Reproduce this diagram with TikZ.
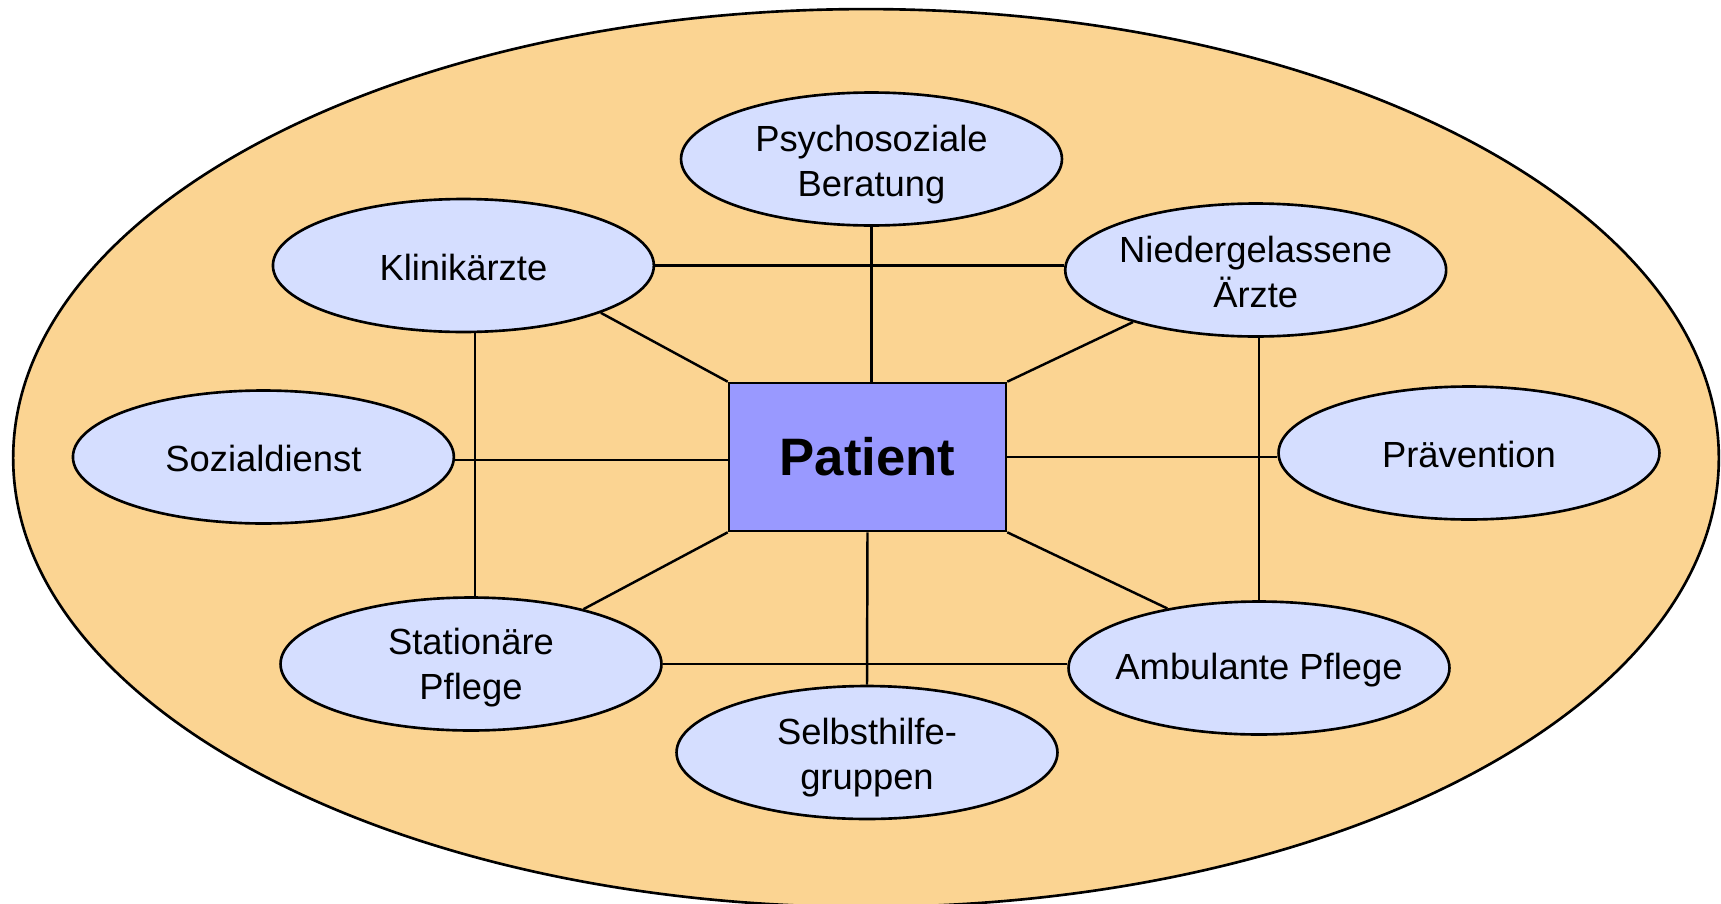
\documentclass[tikz,border=0pt]{standalone}
\usepackage{fontspec}
\setmainfont{Liberation Sans}
\usetikzlibrary{shapes.geometric}
\definecolor{aussen}{HTML}{FBD492}
\definecolor{stelle}{HTML}{D5DEFF}
\definecolor{mitte}{HTML}{9999FF}
% Stuetze fuer die erste Zeile
\newcommand{\zeilenstuetze}[1]{\rule{0pt}{#1}}

\begin{document}
\begin{tikzpicture}[x=0.02cm,y=-0.02cm,
    partner/.style={draw,fill=stelle,line width=1.5pt,shape=ellipse,
      minimum width=7.62cm,minimum height=2.66cm,inner xsep=-2cm,inner ysep=0pt,
      align=center,font=\fontsize{20.7}{25.6}\selectfont},
    verb/.style={line width=1.4pt}]
      \useasboundingbox (0,0) rectangle (1721,903) ;
      \clip (0,0) rectangle (1721,903) ;
      % das grosse Feld
      \draw[line width=1.5pt,fill=aussen] (866,458) ellipse [x radius=17.06cm,y radius=8.98cm] ;
      \node[draw,fill=mitte,line width=1.5pt,minimum width=5.54cm,minimum height=2.96cm,%
        font=\fontsize{30}{36}\selectfont\bfseries] (patient) at (867.5,457) {Patient} ;
      \node[partner] (psycho) at (871.5,159) {\zeilenstuetze{21pt}Psychosoziale\\Beratung} ;
      \node[partner] (klinik) at (463.4,265.5) {\zeilenstuetze{17pt}Klinikärzte} ;
      \node[partner] (nieder) at (1255.7,270) {\zeilenstuetze{17pt}Niedergelassene\\Ärzte} ;
      \node[partner] (sozial) at (263.4,457) {\zeilenstuetze{17pt}Sozialdienst} ;
      \node[partner] (praev) at (1469,453) {\zeilenstuetze{17pt}Prävention} ;
      \node[partner] (station) at (471,664) {\zeilenstuetze{19pt}Stationäre\\Pflege} ;
      \node[partner] (ambul) at (1259,668) {\zeilenstuetze{17pt}Ambulante Pflege} ;
      \node[partner] (selbst) at (867,752.5) {\zeilenstuetze{21pt}Selbsthilfe-\\gruppen} ;
      % Verbindungen
      \draw[verb] (klinik.east) -- (klinik.east -| nieder.west) ;
      \draw[verb] (psycho.south) -- (psycho.south |- patient.north) ;
      \draw[verb] (klinik.-19) -- (patient.north west) ;
      \draw[verb] (nieder.203) -- (patient.north east) ;
      \draw[verb] ([yshift=-0.06cm]sozial.east) -- ([yshift=-0.06cm]sozial.east -| patient.west) ;
      \draw[verb] (patient.east) -- (patient.east -| praev.west) ;
      \draw[verb] ([xshift=0.08cm]station.north) -- ([xshift=0.08cm]station.north |- klinik.south) ;
      \draw[verb] (ambul.north) -- (ambul.north |- nieder.south) ;
      \draw[verb] (station.26) -- (patient.south west) ;
      \draw[verb] (ambul.147) -- (patient.south east) ;
      \draw[verb] (patient.south) -- (selbst.north) ;
      \draw[verb] (station.east) -- (station.east -| ambul.west) ;
    \end{tikzpicture}
\end{document}
